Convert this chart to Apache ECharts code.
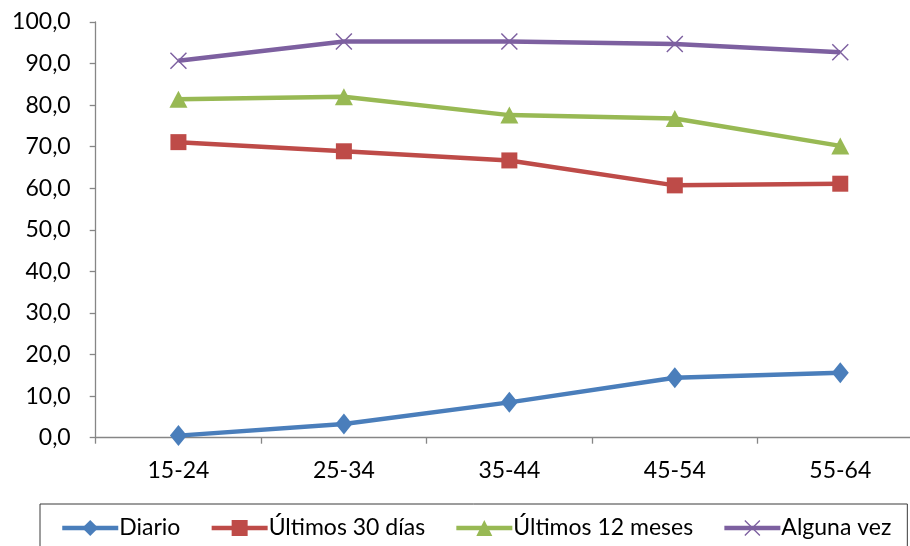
<!DOCTYPE html>
<html>
<head>
<meta charset="utf-8">
<script src="https://cdn.jsdelivr.net/npm/echarts@6/dist/echarts.min.js"></script>
<style>
html,body{margin:0;padding:0;background:#fff;overflow:hidden;width:910px;height:546px;}
#chart{width:923px;height:546px;}
</style>
</head>
<body>
<div id="chart"></div>
<script>
const categories = ['15-24', '25-34', '35-44', '45-54', '55-64'];
const diario = [0.5, 3.3, 8.5, 14.4, 15.6];
const ultimos30 = [71.1, 68.9, 66.7, 60.7, 61.1];
const ultimos12 = [81.4, 82.0, 77.6, 76.8, 70.2];
const algunaVez = [90.7, 95.3, 95.3, 94.7, 92.7];
const seriesNames = ['Diario', 'Últimos 30 días', 'Últimos 12 meses', 'Alguna vez'];
const yTicks = [0, 10, 20, 30, 40, 50, 60, 70, 80, 90, 100];

const FONT = 'Lato';
const crossPath = 'path://M0,0.6 L0.6,0 L5,4.4 L9.4,0 L10,0.6 L5.6,5 L10,9.4 L9.4,10 L5,5.6 L0.6,10 L0,9.4 L4.4,5 Z';

const colors = ['#4A7EBB', '#BE4B48', '#98B954', '#7D60A0'];
const symbols = ['diamond', 'rect', 'triangle', crossPath];
const sizes = [[17, 21], 16, [18, 17], 17];
const data = [diario, ultimos30, ultimos12, algunaVez];

const chart = echarts.init(document.getElementById('chart'), null, {renderer: 'canvas', width: 923, height: 546});
chart.setOption({
  animation: false,
  color: colors,
  grid: {left: 95.7, top: 22, bottom: 108.3, right: 0, containLabel: false},
  legend: {
    left: 40, top: 504,
    data: seriesNames,
    borderColor: '#3a3a3a', borderWidth: 1,
    padding: [12, 16, 30, 20],
    itemWidth: 56, itemHeight: 20, itemGap: 29,
    lineStyle: {width: 4.5},
    textStyle: {fontFamily: FONT, fontSize: 23, lineHeight: 24, color: '#000', padding: [0, 0, 0, -4]}
  },
  xAxis: {
    type: 'category',
    data: categories,
    boundaryGap: true,
    axisLine: {lineStyle: {color: '#868686', width: 1.3}},
    axisTick: {show: true, length: 6, lineStyle: {color: '#868686', width: 1.3}},
    axisLabel: {fontFamily: FONT, fontSize: 23, color: '#000', margin: 21},
    splitLine: {show: false}
  },
  yAxis: {
    type: 'value',
    min: yTicks[0], max: yTicks[yTicks.length - 1], interval: 10,
    axisLine: {show: true, lineStyle: {color: '#868686', width: 1.3}},
    axisTick: {show: true, length: 6, lineStyle: {color: '#868686', width: 1.3}},
    axisLabel: {fontFamily: FONT, fontSize: 23, color: '#000', margin: 25,
      formatter: v => v.toFixed(1).replace('.', ',')},
    splitLine: {show: false}
  },
  series: seriesNames.map((n, i) => ({
    name: n,
    type: 'line',
    data: data[i],
    symbol: symbols[i],
    symbolSize: sizes[i],
    showAllSymbol: true,
    lineStyle: {width: 4.5, color: colors[i]},
    itemStyle: {color: colors[i], borderWidth: 0},
    emphasis: {disabled: true}
  }))
});
</script>
</body>
</html>
